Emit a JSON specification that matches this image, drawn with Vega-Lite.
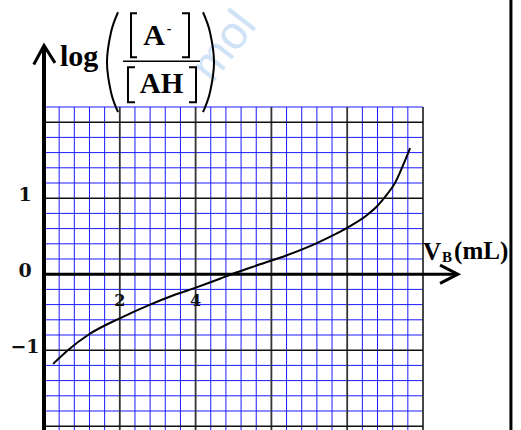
{
  "$schema": "https://vega.github.io/schema/vega-lite/v6.json",
  "width": 379,
  "height": 323,
  "autosize": {"type": "none"},
  "padding": {"left": 44, "top": 107, "right": 98, "bottom": 0},
  "background": "white",
  "config": {"view": {"stroke": null}},
  "datasets": {
    "curve": [
      {"x": 0.24, "y": -1.18}, {"x": 0.63, "y": -1.0}, {"x": 1.19, "y": -0.79},
      {"x": 2.0, "y": -0.58}, {"x": 2.8, "y": -0.4}, {"x": 3.4, "y": -0.28},
      {"x": 4.04, "y": -0.17}, {"x": 4.64, "y": -0.06}, {"x": 4.95, "y": 0.0},
      {"x": 5.7, "y": 0.13}, {"x": 6.41, "y": 0.25}, {"x": 7.2, "y": 0.41},
      {"x": 7.7, "y": 0.53}, {"x": 8.1, "y": 0.64}, {"x": 8.5, "y": 0.77},
      {"x": 8.8, "y": 0.9}, {"x": 9.05, "y": 1.05}, {"x": 9.26, "y": 1.2},
      {"x": 9.47, "y": 1.43}, {"x": 9.66, "y": 1.66}
    ],
    "minorX": [
      {"x": 0.4}, {"x": 0.8}, {"x": 1.2}, {"x": 1.6}, {"x": 2.4}, {"x": 2.8}, {"x": 3.2}, {"x": 3.6},
      {"x": 4.4}, {"x": 4.8}, {"x": 5.2}, {"x": 5.6}, {"x": 6.4}, {"x": 6.8}, {"x": 7.2}, {"x": 7.6},
      {"x": 8.4}, {"x": 8.8}, {"x": 9.2}, {"x": 9.6}
    ],
    "minorY": [
      {"y": -1.8}, {"y": -1.6}, {"y": -1.4}, {"y": -1.2}, {"y": -0.8}, {"y": -0.6}, {"y": -0.4}, {"y": -0.2},
      {"y": 0.2}, {"y": 0.4}, {"y": 0.6}, {"y": 0.8}, {"y": 1.2}, {"y": 1.4}, {"y": 1.6}, {"y": 1.8}, {"y": 2.2}
    ],
    "majorX": [{"x": 2}, {"x": 4}, {"x": 6}, {"x": 8}, {"x": 10}],
    "majorY": [{"y": -2}, {"y": -1}, {"y": 1}, {"y": 2}],
    "yAxisLine": [{"x": 0, "y": -2.05, "y2": 3.0}],
    "xAxisLine": [{"x": 0, "x2": 10.9, "y": 0}],
    "frame": [{"x": 12.32, "y": -2.06, "y2": 3.62}],
    "arrows": [
      {"id": "y", "o": 1, "x": -0.27, "y": 2.76},
      {"id": "y", "o": 2, "x": 0, "y": 3.01},
      {"id": "y", "o": 3, "x": 0.29, "y": 2.78},
      {"id": "x", "o": 1, "x": 10.45, "y": 0.12},
      {"id": "x", "o": 2, "x": 10.92, "y": 0},
      {"id": "x", "o": 3, "x": 10.45, "y": -0.12}
    ],
    "strokes": [
      {"g": "lp", "o": 1, "x": 1.953, "y": 3.447},
      {"g": "lp", "o": 2, "x": 1.768, "y": 3.184},
      {"g": "lp", "o": 3, "x": 1.662, "y": 2.789},
      {"g": "lp", "o": 4, "x": 1.768, "y": 2.395},
      {"g": "lp", "o": 5, "x": 1.953, "y": 2.132},
      {"g": "rp", "o": 1, "x": 4.195, "y": 3.447},
      {"g": "rp", "o": 2, "x": 4.38, "y": 3.184},
      {"g": "rp", "o": 3, "x": 4.486, "y": 2.789},
      {"g": "rp", "o": 4, "x": 4.38, "y": 2.395},
      {"g": "rp", "o": 5, "x": 4.195, "y": 2.132}
    ],
    "brackets": [
      {"g": "nl", "o": 1, "x": 2.454, "y": 3.434},
      {"g": "nl", "o": 2, "x": 2.296, "y": 3.434},
      {"g": "nl", "o": 3, "x": 2.296, "y": 2.855},
      {"g": "nl", "o": 4, "x": 2.454, "y": 2.855},
      {"g": "nr", "o": 1, "x": 3.641, "y": 3.434},
      {"g": "nr", "o": 2, "x": 3.826, "y": 3.434},
      {"g": "nr", "o": 3, "x": 3.826, "y": 2.855},
      {"g": "nr", "o": 4, "x": 3.641, "y": 2.855},
      {"g": "dl", "o": 1, "x": 2.401, "y": 2.724},
      {"g": "dl", "o": 2, "x": 2.216, "y": 2.724},
      {"g": "dl", "o": 3, "x": 2.216, "y": 2.263},
      {"g": "dl", "o": 4, "x": 2.401, "y": 2.263},
      {"g": "dr", "o": 1, "x": 3.826, "y": 2.724},
      {"g": "dr", "o": 2, "x": 4.011, "y": 2.724},
      {"g": "dr", "o": 3, "x": 4.011, "y": 2.263},
      {"g": "dr", "o": 4, "x": 3.826, "y": 2.263}
    ],
    "fractionBar": [{"x": 2.084, "x2": 4.116, "y": 2.803}],
    "yLabels": [{"label": "1", "y": 1}, {"label": "0", "y": 0}, {"label": "−1", "y": -1}],
    "xLabels": [{"label": "2", "x": 2}, {"label": "4", "x": 4}],
    "texts": [
      {"t": "log", "x": 0.42, "y": 2.74},
      {"t": "A", "x": 2.902, "y": 3.013},
      {"t": "-", "x": 3.3, "y": 3.22},
      {"t": "AH", "x": 3.1, "y": 2.382},
      {"t": "V", "x": 10.0, "y": 0.184},
      {"t": "B", "x": 10.5, "y": 0.158},
      {"t": "(mL)", "x": 10.82, "y": 0.197},
      {"t": "mol", "x": 4.75, "y": 3.0}
    ]
  },
  "encoding": {
    "x": {"type": "quantitative", "scale": {"domain": [0, 10], "nice": false, "zero": false}, "axis": null},
    "y": {"type": "quantitative", "scale": {"domain": [-2.05, 2.2], "nice": false, "zero": false}, "axis": null}
  },
  "layer": [
    {
      "data": {"name": "texts"},
      "transform": [{"filter": "datum.t === 'mol'"}],
      "mark": {"type": "text", "font": "Liberation Sans", "fontSize": 46, "align": "center", "baseline": "middle", "angle": -52, "color": "#cfe2f6"},
      "encoding": {
        "x": {"field": "x", "type": "quantitative"},
        "y": {"field": "y", "type": "quantitative"},
        "text": {"field": "t"}
      }
    },
    {
      "data": {"name": "minorX"},
      "mark": {"type": "rule", "color": "#1a1aff", "strokeWidth": 1},
      "encoding": {"x": {"field": "x", "type": "quantitative"}, "y": null}
    },
    {
      "data": {"name": "minorY"},
      "mark": {"type": "rule", "color": "#1a1aff", "strokeWidth": 1},
      "encoding": {"y": {"field": "y", "type": "quantitative"}, "x": null}
    },
    {
      "data": {"name": "majorX"},
      "mark": {"type": "rule", "color": "#333333", "strokeWidth": 1.8},
      "encoding": {"x": {"field": "x", "type": "quantitative"}, "y": null}
    },
    {
      "data": {"name": "majorY"},
      "mark": {"type": "rule", "color": "#111111", "strokeWidth": 1.6},
      "encoding": {"y": {"field": "y", "type": "quantitative"}, "x": null}
    },
    {
      "data": {"name": "curve"},
      "mark": {"type": "line", "color": "black", "strokeWidth": 2, "interpolate": "monotone"},
      "encoding": {
        "x": {"field": "x", "type": "quantitative"},
        "y": {"field": "y", "type": "quantitative"}
      }
    },
    {
      "data": {"name": "yAxisLine"},
      "mark": {"type": "rule", "color": "black", "strokeWidth": 4},
      "encoding": {
        "x": {"field": "x", "type": "quantitative"},
        "y": {"field": "y", "type": "quantitative"},
        "y2": {"field": "y2"}
      }
    },
    {
      "data": {"name": "xAxisLine"},
      "mark": {"type": "rule", "color": "black", "strokeWidth": 3},
      "encoding": {
        "x": {"field": "x", "type": "quantitative"},
        "x2": {"field": "x2"},
        "y": {"field": "y", "type": "quantitative"}
      }
    },
    {
      "data": {"name": "frame"},
      "mark": {"type": "rule", "color": "black", "strokeWidth": 3},
      "encoding": {
        "x": {"field": "x", "type": "quantitative"},
        "y": {"field": "y", "type": "quantitative"},
        "y2": {"field": "y2"}
      }
    },
    {
      "data": {"name": "arrows"},
      "mark": {"type": "line", "color": "black", "strokeWidth": 3, "strokeJoin": "miter", "strokeCap": "butt"},
      "encoding": {
        "x": {"field": "x", "type": "quantitative"},
        "y": {"field": "y", "type": "quantitative"},
        "detail": {"field": "id"},
        "order": {"field": "o"}
      }
    },
    {
      "data": {"name": "strokes"},
      "mark": {"type": "line", "color": "black", "strokeWidth": 2, "interpolate": "cardinal"},
      "encoding": {
        "x": {"field": "x", "type": "quantitative"},
        "y": {"field": "y", "type": "quantitative"},
        "detail": {"field": "g"},
        "order": {"field": "o"}
      }
    },
    {
      "data": {"name": "brackets"},
      "mark": {"type": "line", "color": "black", "strokeWidth": 2, "strokeJoin": "miter"},
      "encoding": {
        "x": {"field": "x", "type": "quantitative"},
        "y": {"field": "y", "type": "quantitative"},
        "detail": {"field": "g"},
        "order": {"field": "o"}
      }
    },
    {
      "data": {"name": "fractionBar"},
      "mark": {"type": "rule", "color": "black", "strokeWidth": 1.5},
      "encoding": {
        "x": {"field": "x", "type": "quantitative"},
        "x2": {"field": "x2"},
        "y": {"field": "y", "type": "quantitative"}
      }
    },
    {
      "data": {"name": "yLabels"},
      "mark": {"type": "text", "font": "DejaVu Serif", "fontWeight": "bold", "fontSize": 19, "align": "center", "baseline": "middle", "dx": -19, "dy": -3, "color": "#111111"},
      "encoding": {
        "x": {"datum": 0, "type": "quantitative"},
        "y": {"field": "y", "type": "quantitative"},
        "text": {"field": "label"}
      }
    },
    {
      "data": {"name": "xLabels"},
      "mark": {"type": "text", "font": "DejaVu Serif", "fontWeight": "bold", "fontSize": 16, "align": "center", "baseline": "middle", "dy": 27, "color": "#111111"},
      "encoding": {
        "x": {"field": "x", "type": "quantitative"},
        "y": {"datum": 0, "type": "quantitative"},
        "text": {"field": "label"}
      }
    },
    {
      "data": {"name": "texts"},
      "transform": [{"filter": "datum.t === 'log'"}],
      "mark": {"type": "text", "font": "Liberation Serif", "fontWeight": "bold", "fontSize": 30, "align": "left", "baseline": "alphabetic"},
      "encoding": {
        "x": {"field": "x", "type": "quantitative"},
        "y": {"field": "y", "type": "quantitative"},
        "text": {"field": "t"}
      }
    },
    {
      "data": {"name": "texts"},
      "transform": [{"filter": "datum.t === 'A'"}],
      "mark": {"type": "text", "font": "Liberation Serif", "fontWeight": "bold", "fontSize": 30, "align": "center", "baseline": "alphabetic"},
      "encoding": {
        "x": {"field": "x", "type": "quantitative"},
        "y": {"field": "y", "type": "quantitative"},
        "text": {"field": "t"}
      }
    },
    {
      "data": {"name": "texts"},
      "transform": [{"filter": "datum.t === '-'"}],
      "mark": {"type": "text", "font": "Liberation Serif", "fontWeight": "bold", "fontSize": 14, "align": "center", "baseline": "middle"},
      "encoding": {
        "x": {"field": "x", "type": "quantitative"},
        "y": {"field": "y", "type": "quantitative"},
        "text": {"field": "t"}
      }
    },
    {
      "data": {"name": "texts"},
      "transform": [{"filter": "datum.t === 'AH'"}],
      "mark": {"type": "text", "font": "Liberation Serif", "fontWeight": "bold", "fontSize": 29, "align": "center", "baseline": "alphabetic"},
      "encoding": {
        "x": {"field": "x", "type": "quantitative"},
        "y": {"field": "y", "type": "quantitative"},
        "text": {"field": "t"}
      }
    },
    {
      "data": {"name": "texts"},
      "transform": [{"filter": "datum.t === 'V' || datum.t === '(mL)'"}],
      "mark": {"type": "text", "font": "Liberation Serif", "fontWeight": "bold", "fontSize": 25, "align": "left", "baseline": "alphabetic"},
      "encoding": {
        "x": {"field": "x", "type": "quantitative"},
        "y": {"field": "y", "type": "quantitative"},
        "text": {"field": "t"}
      }
    },
    {
      "data": {"name": "texts"},
      "transform": [{"filter": "datum.t === 'B'"}],
      "mark": {"type": "text", "font": "Liberation Serif", "fontWeight": "bold", "fontSize": 15, "align": "left", "baseline": "alphabetic"},
      "encoding": {
        "x": {"field": "x", "type": "quantitative"},
        "y": {"field": "y", "type": "quantitative"},
        "text": {"field": "t"}
      }
    }
  ]
}
